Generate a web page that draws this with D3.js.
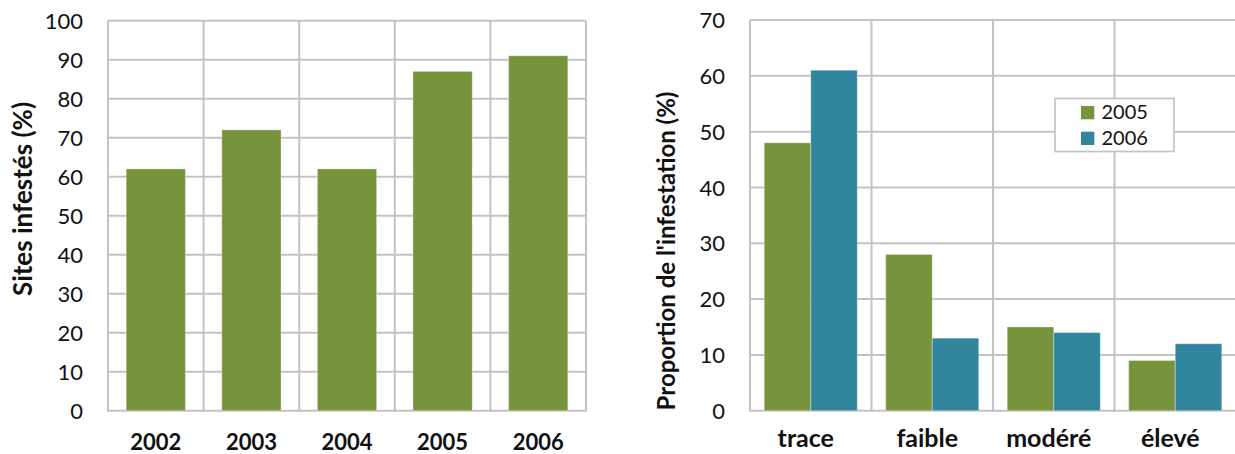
<!DOCTYPE html>
<html>
<head>
<meta charset="utf-8">
<script src="https://cdn.jsdelivr.net/npm/d3@7"></script>
<style>
  html, body { margin: 0; padding: 0; background: #fff; }
  svg { display: block; }
  text { font-family: Lato, "Open Sans", sans-serif; fill: #111; }
</style>
</head>
<body>
<svg id="chart" width="1235" height="454"></svg>
<script>
// Sites infestés par année
const years = ["2002", "2003", "2004", "2005", "2006"];
const sitesValues = [62, 72, 62, 87, 91];
const sitesTicks = [0, 10, 20, 30, 40, 50, 60, 70, 80, 90, 100];

// Proportion de l'infestation par niveau
const levels = ["trace", "faible", "modéré", "élevé"];
const seriesNames = ["2005", "2006"];
const values2005 = [48, 28, 15, 9];
const values2006 = [61, 13, 14, 12];
const propTicks = [0, 10, 20, 30, 40, 50, 60, 70];

const GREEN = "#77933c";
const TEAL = "#31859c";
const GRID = "#c3c3c3";

const svg = d3.select("#chart");

function frame(g, x, y, ticks) {
  const [x0, x1] = x.range();
  // horizontal gridlines
  g.append("g").selectAll("line").data(ticks).join("line")
    .attr("x1", x0).attr("x2", x1)
    .attr("y1", d => y(d)).attr("y2", d => y(d))
    .attr("stroke", GRID).attr("stroke-width", 2);
  // vertical gridlines at category boundaries
  const bounds = x.domain().map(d => x(d)).concat([x(x.domain()[x.domain().length - 1]) + x.step()]);
  g.append("g").selectAll("line").data(bounds).join("line")
    .attr("x1", d => d).attr("x2", d => d)
    .attr("y1", y.range()[1]).attr("y2", y.range()[0] + 1)
    .attr("stroke", GRID).attr("stroke-width", 2);
}

function yAxis(g, y, ticks, xPos, size) {
  const ax = d3.axisLeft(y).tickValues(ticks).tickSize(0).tickPadding(0);
  const a = g.append("g").attr("transform", `translate(${xPos},0)`).call(ax);
  a.select(".domain").remove();
  a.selectAll("text")
    .attr("x", 0).attr("dy", "0.35em")
    .style("font-size", size + "px").style("font-family", "Lato, sans-serif").attr("fill", "#111");
}

// ---- Left chart: Sites infestés (%) ----
{
  const g = svg.append("g");
  const x = d3.scaleBand().domain(years).range([108, 586]).padding(0);
  const y = d3.scaleLinear().domain([0, 100]).range([410.7, 20.7]);
  frame(g, x, y, sitesTicks);

  const bw = x.bandwidth() * 0.62;
  g.append("g").selectAll("rect").data(years).join("rect")
    .attr("x", d => x(d) + (x.bandwidth() - bw) / 2)
    .attr("width", bw)
    .attr("y", (d, i) => y(sitesValues[i]))
    .attr("height", (d, i) => y(0) - y(sitesValues[i]))
    .attr("fill", GREEN)
    .attr("stroke", "rgba(255,255,255,0.35)").attr("stroke-width", 1);

  yAxis(g, y, sitesTicks, 83, 22);

  g.append("g").selectAll("text").data(years).join("text")
    .attr("x", d => x(d) + x.bandwidth() / 2)
    .attr("y", 450)
    .attr("text-anchor", "middle")
    .style("font-size", "22px").style("font-weight", "bold")
    .text(d => d);

  g.append("text")
    .attr("transform", "translate(32,199) rotate(-90)")
    .attr("text-anchor", "middle")
    .style("font-size", "26px").style("font-weight", "bold")
    .text("Sites infestés (%)");
}

// ---- Right chart: Proportion de l'infestation (%) ----
{
  const g = svg.append("g");
  const x = d3.scaleBand().domain(levels).range([750, 1236]).padding(0);
  const y = d3.scaleLinear().domain([0, 70]).range([410.7, 20]);
  frame(g, x, y, propTicks);

  const groupW = x.bandwidth() * 0.766;
  const xs = d3.scaleBand().domain(seriesNames).range([0, groupW]).padding(0);
  const series = [
    { name: "2005", values: values2005, color: GREEN },
    { name: "2006", values: values2006, color: TEAL }
  ];
  const rows = [];
  series.forEach(s => levels.forEach((l, i) => rows.push({ level: l, name: s.name, v: s.values[i], color: s.color })));

  g.append("g").selectAll("rect").data(rows).join("rect")
    .attr("x", d => x(d.level) + (x.bandwidth() - groupW) / 2 + xs(d.name))
    .attr("width", xs.bandwidth())
    .attr("y", d => y(d.v))
    .attr("height", d => y(0) - y(d.v))
    .attr("fill", d => d.color)
    .attr("stroke", "rgba(255,255,255,0.35)").attr("stroke-width", 1);

  yAxis(g, y, propTicks, 725, 22);

  g.append("g").selectAll("text").data(levels).join("text")
    .attr("x", d => x(d) + x.bandwidth() / 2 - 5)
    .attr("y", 447)
    .attr("text-anchor", "middle")
    .style("font-size", "25px").style("font-weight", "bold")
    .text(d => d);

  g.append("text")
    .attr("transform", "translate(675,251) rotate(-90)")
    .attr("text-anchor", "middle")
    .style("font-size", "24px").style("font-weight", "bold")
    .text("Proportion de l'infestation (%)");

  // legend
  const lg = g.append("g").attr("transform", "translate(1055,98.5)");
  lg.append("rect").attr("width", 119).attr("height", 53)
    .attr("fill", "#fff").attr("stroke", GRID).attr("stroke-width", 1.7);
  const item = lg.selectAll("g.item").data(series).join("g")
    .attr("class", "item")
    .attr("transform", (d, i) => `translate(26,${7.5 + i * 25.7})`);
  item.append("rect").attr("width", 13.3).attr("height", 13.3).attr("fill", d => d.color);
  item.append("text").attr("x", 20.5).attr("y", 13.3)
    .style("font-size", "20px").text(d => d.name);
}
</script>
</body>
</html>
